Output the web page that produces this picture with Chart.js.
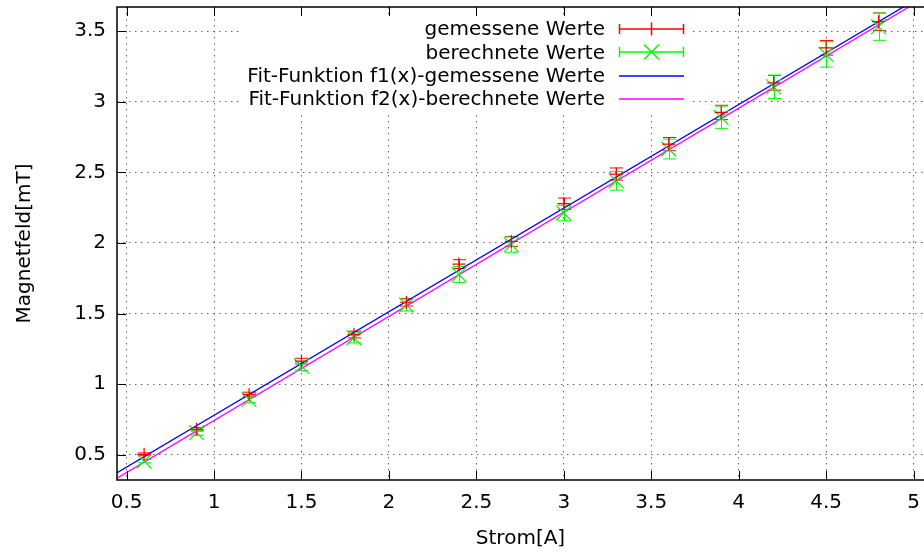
<!DOCTYPE html>
<html>
<head>
<meta charset="utf-8">
<script src="https://cdn.jsdelivr.net/npm/chart.js@4.4.1/dist/chart.umd.min.js"></script>
<style>
  body { margin: 0; background: #fff; }
  canvas { display: block; }
</style>
</head>
<body>
<canvas id="plot" width="924" height="554"></canvas>
<script>
// Messwerte
const strom = [0.6, 0.9, 1.2, 1.5, 1.8, 2.1, 2.4, 2.7, 3.0, 3.3, 3.6, 3.9, 4.2, 4.5, 4.8];
const gemessen = [0.503, 0.680, 0.927, 1.163, 1.351, 1.580, 1.850, 2.011, 2.278, 2.488, 2.700, 2.924, 3.134, 3.382, 3.567];
const gemessenFehler = [0.010, 0.012, 0.016, 0.020, 0.024, 0.027, 0.031, 0.035, 0.040, 0.043, 0.047, 0.051, 0.052, 0.052, 0.062];
const berechnet = [0.455, 0.656, 0.892, 1.127, 1.328, 1.560, 1.776, 1.988, 2.212, 2.440, 2.665, 2.889, 3.106, 3.335, 3.532];
const berechnetFehler = [0.012, 0.018, 0.024, 0.030, 0.036, 0.042, 0.057, 0.054, 0.055, 0.066, 0.070, 0.080, 0.083, 0.090, 0.097];

// Fit-Geraden (Endpunkte)
const fitX = [0.40, 5.10];
const fitF1 = [0.340, 3.787];
const fitF2 = [0.300, 3.765];

const xTickWerte = [0.5, 1, 1.5, 2, 2.5, 3, 3.5, 4, 4.5, 5];
const yTickWerte = [0.5, 1, 1.5, 2, 2.5, 3, 3.5];

const legendeTexte = ['gemessene Werte', 'berechnete Werte',
    'Fit-Funktion f1(x)-gemessene Werte', 'Fit-Funktion f2(x)-berechnete Werte'];

const FONT = '20px "DejaVu Sans"';

function punkte(xs, ys) {
    return xs.map((x, i) => ({x: x, y: ys[i]}));
}

// weisser Kasten hinter der Legende + Fehlerbalken
const fehlerPlugin = {
    id: 'fehler',
    beforeDatasetsDraw(chart) {
        const ctx = chart.ctx;
        const x = chart.scales.x, y = chart.scales.y;
        ctx.save();
        ctx.font = FONT;
        let w = 0;
        legendeTexte.forEach(t => { w = Math.max(w, ctx.measureText(t).width); });
        ctx.fillStyle = '#fff';
        ctx.fillRect(605 - w - 8, 17, 692 - (605 - w - 8), 95);

        const reihen = [
            {ys: gemessen, err: gemessenFehler, color: '#ff0000'},
            {ys: berechnet, err: berechnetFehler, color: '#00ff00'}
        ];
        ctx.lineWidth = 1;
        reihen.forEach(r => {
            ctx.strokeStyle = r.color;
            strom.forEach((xv, i) => {
                const px = Math.round(x.getPixelForValue(xv)) + 0.5;
                const y1 = y.getPixelForValue(r.ys[i] - r.err[i]);
                const y2 = y.getPixelForValue(r.ys[i] + r.err[i]);
                ctx.beginPath();
                ctx.moveTo(px, y1); ctx.lineTo(px, y2);
                ctx.moveTo(px - 6.5, y1); ctx.lineTo(px + 6.5, y1);
                ctx.moveTo(px - 6.5, y2); ctx.lineTo(px + 6.5, y2);
                ctx.stroke();
            });
        });
        ctx.restore();
    }
};

// Rahmen, Striche und Legende
const rahmenPlugin = {
    id: 'rahmen',
    afterDraw(chart) {
        const ctx = chart.ctx;
        const a = chart.chartArea;
        const x = chart.scales.x, y = chart.scales.y;
        ctx.save();
        ctx.setLineDash([]);
        ctx.strokeStyle = '#000';
        ctx.lineWidth = 1;
        ctx.beginPath();
        y.ticks.forEach(t => {
            const py = Math.round(y.getPixelForValue(t.value)) + 0.5;
            ctx.moveTo(a.left, py); ctx.lineTo(a.left + 9, py);
        });
        x.ticks.forEach(t => {
            const px = Math.round(x.getPixelForValue(t.value)) + 0.5;
            ctx.moveTo(px, a.bottom); ctx.lineTo(px, a.bottom - 9);
            ctx.moveTo(px, a.top); ctx.lineTo(px, a.top + 9);
        });
        ctx.stroke();
        ctx.lineWidth = 1.5;
        ctx.beginPath();
        ctx.moveTo(a.right, a.top); ctx.lineTo(a.left, a.top);
        ctx.lineTo(a.left, a.bottom); ctx.lineTo(a.right, a.bottom);
        ctx.stroke();

        // Legende
        const zeilen = [29, 52.3, 75.6, 99];
        const farben = ['#ff0000', '#00ff00', '#0000ff', '#ff00ff'];
        ctx.font = FONT;
        ctx.textAlign = 'right';
        ctx.textBaseline = 'middle';
        ctx.fillStyle = '#000';
        ctx.lineWidth = 1.5;
        zeilen.forEach((zy, i) => {
            ctx.fillText(legendeTexte[i], 605, zy + 1);
            const ly = Math.round(zy);
            ctx.strokeStyle = farben[i];
            ctx.beginPath();
            ctx.moveTo(619, ly); ctx.lineTo(684, ly);
            if (i < 2) {
                ctx.moveTo(619.5, ly - 5); ctx.lineTo(619.5, ly + 5);
                ctx.moveTo(683.5, ly - 5); ctx.lineTo(683.5, ly + 5);
                if (i === 0) {
                    ctx.moveTo(651.5, ly - 6.5); ctx.lineTo(651.5, ly + 6.5);
                } else {
                    ctx.moveTo(651.5 - 7.5, ly - 7.5); ctx.lineTo(651.5 + 7.5, ly + 7.5);
                    ctx.moveTo(651.5 - 7.5, ly + 7.5); ctx.lineTo(651.5 + 7.5, ly - 7.5);
                }
            }
            ctx.stroke();
        });
        ctx.restore();
    }
};

const tickFont = { family: 'DejaVu Sans', size: 20 };

const config = {
    type: 'scatter',
    data: {
        datasets: [
            {
                label: legendeTexte[0],
                data: punkte(strom, gemessen),
                pointStyle: 'cross',
                pointRadius: 6.5,
                borderColor: '#ff0000',
                pointBorderWidth: 1.2
            },
            {
                label: legendeTexte[1],
                data: punkte(strom, berechnet),
                pointStyle: 'crossRot',
                pointRadius: 10.5,
                borderColor: '#00ff00',
                pointBorderWidth: 1.2
            },
            {
                label: legendeTexte[2],
                data: punkte(fitX, fitF1),
                showLine: true,
                pointRadius: 0,
                borderColor: '#0000ff',
                borderWidth: 1.3
            },
            {
                label: legendeTexte[3],
                data: punkte(fitX, fitF2),
                showLine: true,
                pointRadius: 0,
                borderColor: '#ff00ff',
                borderWidth: 1.3
            }
        ]
    },
    options: {
        responsive: false,
        animation: false,
        layout: { autoPadding: false, padding: { top: 7, right: 0, left: 0, bottom: 0 } },
        plugins: {
            legend: { display: false },
            tooltip: { enabled: false }
        },
        scales: {
            x: {
                type: 'linear',
                min: 0.445,
                max: 5.06,
                afterFit(scale) {
                    scale.height = 74;
                    scale.paddingLeft = 0; scale.paddingRight = 0;
                },
                afterBuildTicks(scale) { scale.ticks = xTickWerte.map(v => ({value: v})); },
                grid: { color: '#666', drawTicks: false },
                border: { display: false, dash: [1.5, 4.5] },
                ticks: { color: '#000', font: tickFont, padding: 11,
                    maxRotation: 0, autoSkip: false, callback: v => String(v) },
                title: { display: true, text: 'Strom[A]', color: '#000',
                    font: tickFont, padding: { top: 0, bottom: 3 } }
            },
            y: {
                type: 'linear',
                min: 0.321,
                max: 3.671,
                afterFit(scale) {
                    scale.width = 117;
                    scale.paddingTop = 0; scale.paddingBottom = 0;
                },
                afterBuildTicks(scale) { scale.ticks = yTickWerte.map(v => ({value: v})); },
                grid: { color: '#666', drawTicks: false },
                border: { display: false, dash: [1.5, 4.5] },
                ticks: { color: '#000', font: tickFont, padding: 11,
                    autoSkip: false, callback: v => String(v) },
                title: { display: true, text: 'Magnetfeld[mT]', color: '#000',
                    font: tickFont, padding: { top: 13, bottom: 0 } }
            }
        }
    },
    plugins: [fehlerPlugin, rahmenPlugin]
};

new Chart(document.getElementById('plot').getContext('2d'), config);
</script>
</body>
</html>
